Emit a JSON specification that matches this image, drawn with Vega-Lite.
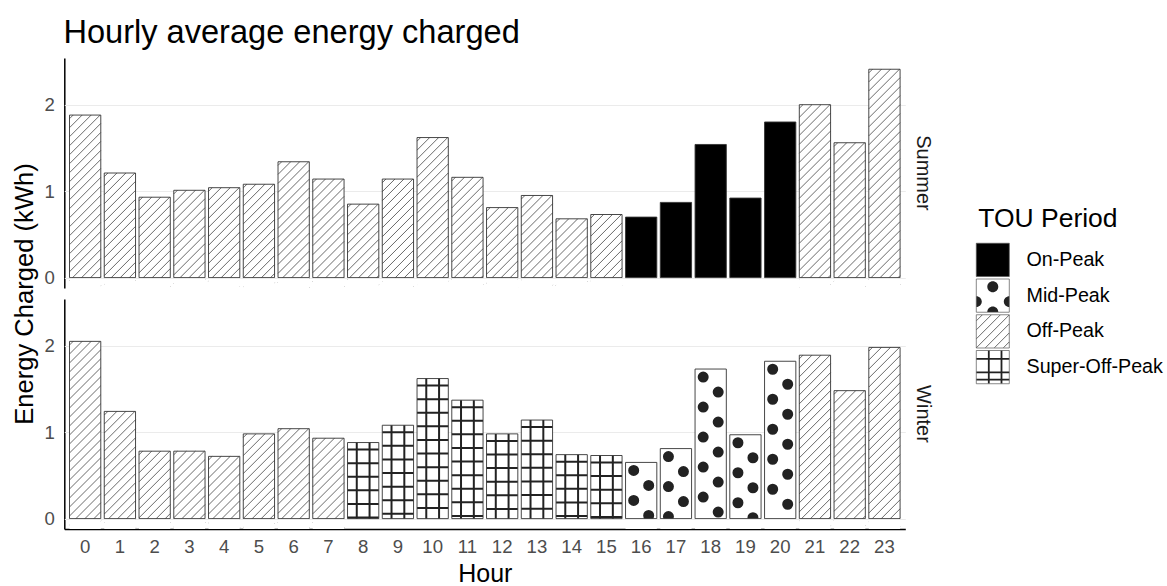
{
  "$schema": "https://vega.github.io/schema/vega-lite/v6.json",
  "background": "white",
  "padding": {"left": 12.3, "top": 17, "right": 5, "bottom": 0},
  "title": {"text": "Hourly average energy charged", "anchor": "start", "fontSize": 32.6, "fontWeight": "normal", "color": "#000000", "offset": 8, "dx": 50.7},
  "datasets": {
    "energy": [
      {"hour": 0, "season": "Summer", "period": "Off-Peak", "value": 1.88},
      {"hour": 1, "season": "Summer", "period": "Off-Peak", "value": 1.21},
      {"hour": 2, "season": "Summer", "period": "Off-Peak", "value": 0.93},
      {"hour": 3, "season": "Summer", "period": "Off-Peak", "value": 1.01},
      {"hour": 4, "season": "Summer", "period": "Off-Peak", "value": 1.04},
      {"hour": 5, "season": "Summer", "period": "Off-Peak", "value": 1.08},
      {"hour": 6, "season": "Summer", "period": "Off-Peak", "value": 1.34},
      {"hour": 7, "season": "Summer", "period": "Off-Peak", "value": 1.14},
      {"hour": 8, "season": "Summer", "period": "Off-Peak", "value": 0.85},
      {"hour": 9, "season": "Summer", "period": "Off-Peak", "value": 1.14},
      {"hour": 10, "season": "Summer", "period": "Off-Peak", "value": 1.62},
      {"hour": 11, "season": "Summer", "period": "Off-Peak", "value": 1.16},
      {"hour": 12, "season": "Summer", "period": "Off-Peak", "value": 0.81},
      {"hour": 13, "season": "Summer", "period": "Off-Peak", "value": 0.95},
      {"hour": 14, "season": "Summer", "period": "Off-Peak", "value": 0.68},
      {"hour": 15, "season": "Summer", "period": "Off-Peak", "value": 0.73},
      {"hour": 16, "season": "Summer", "period": "On-Peak", "value": 0.70},
      {"hour": 17, "season": "Summer", "period": "On-Peak", "value": 0.87},
      {"hour": 18, "season": "Summer", "period": "On-Peak", "value": 1.54},
      {"hour": 19, "season": "Summer", "period": "On-Peak", "value": 0.92},
      {"hour": 20, "season": "Summer", "period": "On-Peak", "value": 1.80},
      {"hour": 21, "season": "Summer", "period": "Off-Peak", "value": 2.00},
      {"hour": 22, "season": "Summer", "period": "Off-Peak", "value": 1.56},
      {"hour": 23, "season": "Summer", "period": "Off-Peak", "value": 2.41},
      {"hour": 0, "season": "Winter", "period": "Off-Peak", "value": 2.05},
      {"hour": 1, "season": "Winter", "period": "Off-Peak", "value": 1.24},
      {"hour": 2, "season": "Winter", "period": "Off-Peak", "value": 0.78},
      {"hour": 3, "season": "Winter", "period": "Off-Peak", "value": 0.78},
      {"hour": 4, "season": "Winter", "period": "Off-Peak", "value": 0.72},
      {"hour": 5, "season": "Winter", "period": "Off-Peak", "value": 0.98},
      {"hour": 6, "season": "Winter", "period": "Off-Peak", "value": 1.04},
      {"hour": 7, "season": "Winter", "period": "Off-Peak", "value": 0.93},
      {"hour": 8, "season": "Winter", "period": "Super-Off-Peak", "value": 0.88},
      {"hour": 9, "season": "Winter", "period": "Super-Off-Peak", "value": 1.08},
      {"hour": 10, "season": "Winter", "period": "Super-Off-Peak", "value": 1.62},
      {"hour": 11, "season": "Winter", "period": "Super-Off-Peak", "value": 1.37},
      {"hour": 12, "season": "Winter", "period": "Super-Off-Peak", "value": 0.98},
      {"hour": 13, "season": "Winter", "period": "Super-Off-Peak", "value": 1.14},
      {"hour": 14, "season": "Winter", "period": "Super-Off-Peak", "value": 0.74},
      {"hour": 15, "season": "Winter", "period": "Super-Off-Peak", "value": 0.73},
      {"hour": 16, "season": "Winter", "period": "Mid-Peak", "value": 0.65},
      {"hour": 17, "season": "Winter", "period": "Mid-Peak", "value": 0.81},
      {"hour": 18, "season": "Winter", "period": "Mid-Peak", "value": 1.73},
      {"hour": 19, "season": "Winter", "period": "Mid-Peak", "value": 0.97},
      {"hour": 20, "season": "Winter", "period": "Mid-Peak", "value": 1.82},
      {"hour": 21, "season": "Winter", "period": "Off-Peak", "value": 1.89},
      {"hour": 22, "season": "Winter", "period": "Off-Peak", "value": 1.48},
      {"hour": 23, "season": "Winter", "period": "Off-Peak", "value": 1.98}
    ]
  },
  "spacing": 39,
  "hconcat": [
    {
      "data": {"name": "energy"},
      "facet": {
        "row": {
          "field": "season", "type": "nominal", "sort": ["Summer", "Winter"], "title": "Energy Charged (kWh)",
          "header": {"labelAngle": 90, "labelOrient": "right", "labelFontSize": 20, "labelColor": "#1a1a1a", "labelPadding": 7.8,
            "titleOrient": "left", "titleFontSize": 25.6, "titleFontWeight": "normal", "titleColor": "#000000", "titlePadding": -5}
        }
      },
      "spacing": {"row": 11},
      "spec": {
        "width": 841,
        "height": 230,
        "encoding": {
          "x": {
            "field": "hour", "type": "ordinal",
            "scale": {"domain": [0,1,2,3,4,5,6,7,8,9,10,11,12,13,14,15,16,17,18,19,20,21,22,23], "paddingInner": 0.1, "paddingOuter": 0.15},
            "axis": {"labelAngle": 0, "labelFontSize": 18.6, "labelPadding": 8.5, "title": "Hour", "titleFontSize": 25, "titlePadding": 5}
          },
          "y": {
            "field": "value", "type": "quantitative",
            "scale": {"domain": [-0.12, 2.54], "nice": false, "zero": false},
            "axis": {"values": [0, 1, 2], "grid": true, "labelFontSize": 18.6, "labelPadding": 10, "title": null}
          }
        },
        "layer": [
          {
            "mark": {"type": "bar", "stroke": null},
            "encoding": {
              "y2": {"datum": 0},
              "fill": {"field": "period", "type": "nominal", "legend": null,
                "scale": {"domain": ["On-Peak", "Mid-Peak", "Off-Peak", "Super-Off-Peak"], "range": ["#000000", "#ffffff", "#ffffff", "#ffffff"]}}
            }
          },
          {
            "transform": [{"filter": "datum.period == 'Off-Peak'"}],
            "mark": {"type": "point", "clip": true, "filled": false, "opacity": 1, "size": 4, "stroke": "#444444", "color": "#444444", "strokeWidth": 0.8,
              "shape": "M-15.6 3.6L-12 0M-15.6 12.6L-3 0M-15.6 21.6L6 0M-15.6 30.6L15 0M-15.6 39.6L15.6 8.4M-15.6 48.6L15.6 17.4M-15.6 57.6L15.6 26.4M-15.6 66.6L15.6 35.4M-15.6 75.6L15.6 44.4M-15.6 84.6L15.6 53.4M-15.6 93.6L15.6 62.4M-15.6 102.6L15.6 71.4M-15.6 111.6L15.6 80.4M-15.6 120.6L15.6 89.4M-15.6 129.6L15.6 98.4M-15.6 138.6L15.6 107.4M-15.6 147.6L15.6 116.4M-15.6 156.6L15.6 125.4M-15.6 165.6L15.6 134.4M-15.6 174.6L15.6 143.4M-15.6 183.6L15.6 152.4M-15.6 192.6L15.6 161.4M-15.6 201.6L15.6 170.4M-15.6 210.6L15.6 179.4M-15.6 219.6L15.6 188.4M-15.6 228.6L15.6 197.4M-10 232L15.6 206.4M-1 232L15.6 215.4M8 232L15.6 224.4"}
          },
          {
            "transform": [{"filter": "datum.period == 'Mid-Peak'"}],
            "mark": {"type": "rule", "clip": true, "stroke": "#222222", "strokeWidth": 11, "strokeCap": "round", "strokeDash": [0, 30], "strokeDashOffset": 22, "xOffset": -7.5},
            "encoding": {"y2": {"datum": 0}}
          },
          {
            "transform": [{"filter": "datum.period == 'Mid-Peak'"}],
            "mark": {"type": "rule", "clip": true, "stroke": "#222222", "strokeWidth": 11, "strokeCap": "round", "strokeDash": [0, 30], "strokeDashOffset": 7, "xOffset": 7.5},
            "encoding": {"y2": {"datum": 0}}
          },
          {
            "transform": [{"filter": "datum.period == 'Super-Off-Peak'"}],
            "mark": {"type": "rule", "clip": true, "stroke": "#222222", "strokeWidth": 31.2, "strokeCap": "butt", "strokeDash": [2, 11.6], "strokeDashOffset": -6},
            "encoding": {"y2": {"datum": 0}}
          },
          {
            "transform": [{"filter": "datum.period == 'Super-Off-Peak'"}],
            "mark": {"type": "rule", "clip": true, "stroke": "#222222", "strokeWidth": 2, "xOffset": -6.4},
            "encoding": {"y2": {"datum": 0}}
          },
          {
            "transform": [{"filter": "datum.period == 'Super-Off-Peak'"}],
            "mark": {"type": "rule", "clip": true, "stroke": "#222222", "strokeWidth": 2, "xOffset": 6.4},
            "encoding": {"y2": {"datum": 0}}
          },
          {
            "transform": [{"filter": "datum.period == 'Off-Peak' || datum.period == 'Mid-Peak'"}],
            "mark": {"type": "bar", "fill": "#ffffff", "stroke": null},
            "encoding": {"y": {"datum": -0.12, "type": "quantitative"}, "y2": {"datum": 0}}
          },
          {
            "mark": {"type": "bar", "fillOpacity": 0, "stroke": "#333333", "strokeWidth": 0.9},
            "encoding": {"y2": {"datum": 0}}
          }
        ]
      }
    },
    {
      "data": {"name": "energy"},
      "transform": [{"aggregate": [{"op": "count", "as": "n"}], "groupby": ["period"]}],
      "width": 33,
      "height": 328,
      "encoding": {
        "y": {
          "field": "period", "type": "nominal",
          "scale": {"domain": ["On-Peak", "Mid-Peak", "Off-Peak", "Super-Off-Peak"], "paddingInner": 0.07, "paddingOuter": 0.035, "range": [184, 327]},
          "axis": {"orient": "right", "domain": false, "ticks": false, "tickSize": 0, "grid": false, "labelPadding": 16.7, "labelFontSize": 19.7, "labelColor": "#000000",
            "title": "TOU Period", "titleAngle": 0, "titleAlign": "left", "titleBaseline": "alphabetic", "titleFontSize": 26.5, "titleFontWeight": "normal", "titleX": -31.6, "titleY": 168}
        }
      },
      "layer": [
        {
          "mark": {"type": "rect", "stroke": null},
          "encoding": {
            "fill": {"field": "period", "type": "nominal", "legend": null,
              "scale": {"domain": ["On-Peak", "Mid-Peak", "Off-Peak", "Super-Off-Peak"], "range": ["#000000", "#ffffff", "#ffffff", "#ffffff"]}}
          }
        },
        {
          "transform": [{"filter": "datum.period == 'Off-Peak'"}],
          "mark": {"type": "point", "filled": false, "opacity": 1, "size": 4, "stroke": "#444444", "color": "#444444", "strokeWidth": 0.8,
            "shape": "M-16.4 -10.6L-10.6 -16.4M-16.4 -1.6L-1.6 -16.4M-16.4 7.4L7.4 -16.4M-16.4 16.4L16.4 -16.4M-7.4 16.4L16.4 -7.4M1.6 16.4L16.4 1.6M10.6 16.4L16.4 10.6"}
        },
        {
          "transform": [{"filter": "datum.period == 'Mid-Peak'"}],
          "mark": {"type": "point", "filled": true, "opacity": 1, "size": 4, "fill": "#222222", "color": "#222222", "strokeWidth": 0,
            "shape": "M-5.5 -9A5.5 5.5 0 1 0 5.5 -9A5.5 5.5 0 1 0 -5.5 -9ZM-16.5 0.5A5.5 5.5 0 0 1 -16.5 11.5ZM16.5 11.5A5.5 5.5 0 0 1 16.5 0.5ZM-5.5 16.5A5.5 5.5 0 0 1 5.5 16.5Z"}
        },
        {
          "transform": [{"filter": "datum.period == 'Super-Off-Peak'"}],
          "mark": {"type": "point", "filled": false, "opacity": 1, "size": 4, "stroke": "#222222", "color": "#222222", "strokeWidth": 1.8,
            "shape": "M-4 -16.5L-4 16.5M8.7 -16.5L8.7 16.5M-16.5 -8.3L16.5 -8.3M-16.5 5.3L16.5 5.3M-16.5 12.5L16.5 12.5"}
        },
        {
          "mark": {"type": "rect", "fillOpacity": 0, "stroke": "#555555", "strokeWidth": 0.7}
        }
      ]
    }
  ],
  "config": {
    "font": "Liberation Sans",
    "view": {"stroke": null},
    "axis": {"ticks": false, "tickSize": 0, "labelColor": "#4d4d4d", "titleColor": "#000000", "titleFontWeight": "normal", "domainColor": "#000000", "domainWidth": 1.5, "gridColor": "#ebebeb", "gridWidth": 1}
  }
}
